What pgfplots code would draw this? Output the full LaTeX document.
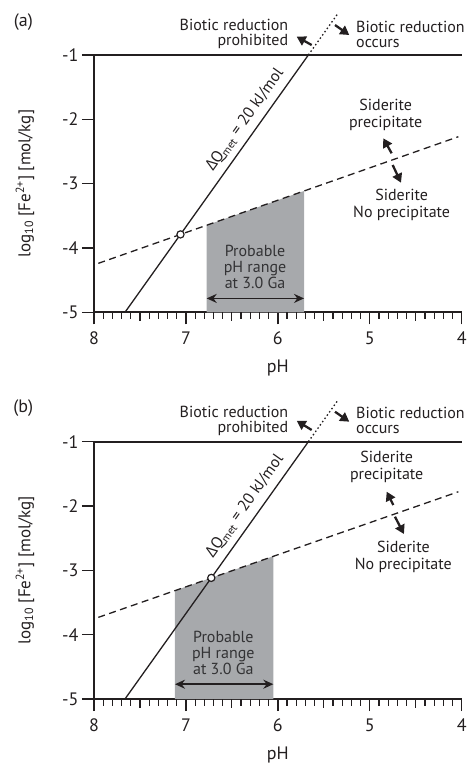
\documentclass[border=0pt]{standalone}
\usepackage{fontspec}
\setmainfont{PT Sans}
\newfontfamily\grk{Open Sans}
\usepackage{pgfplots}
\pgfplotsset{compat=1.18}
\usetikzlibrary{arrows.meta}

\definecolor{ink}{HTML}{231F20}
\definecolor{shade}{HTML}{A7A9AC}
\definecolor{note}{HTML}{333335}

\newcommand{\annfont}{\fontsize{16}{18}\selectfont}

\pgfplotsset{
  panel/.style={
    scale only axis, width=367.7pt, height=257.3pt,
    xmin=4, xmax=8, ymin=-5, ymax=-1, x dir=reverse,
    anchor=south west, clip=false,
    axis x line*=bottom, axis y line*=left,
    axis line style={line width=1.7pt, ink},
    tick align=outside,
    xtick={4,5,6,7,8}, xticklabels={4,5,6,7,8},
    ytick={-5,-4,-3,-2,-1}, yticklabels={-5,-4,-3,-2,-1},
    major tick length=12pt,
    every major tick/.append style={line width=1.4pt, ink},
    ticklabel style={font=\fontsize{18}{20}\selectfont, text=ink},
    xticklabel style={yshift=-4pt},
  },
  shadeband/.style={fill=shade, draw=none},
  solidline/.style={ink, line width=1.3pt},
  dotline/.style={ink, line width=1.3pt, dash pattern=on 1.5pt off 2.5pt},
  dashline/.style={ink, line width=1.3pt, dash pattern=on 7pt off 4.5pt},
  crossing/.style={only marks, mark=*, mark size=3.6pt,
    mark options={fill=white, draw=ink, line width=1.2pt}},
}
\tikzset{
  bigarrow/.style={ink, line width=2.3pt, -{Triangle[length=9pt,width=10pt]}},
  rangearrow/.style={ink, line width=1.6pt,
    {Stealth[length=10pt,width=9pt]}-{Stealth[length=10pt,width=9pt]}},
  subtick/.style={ink, line width=1.2pt},
}
% short ticks every 0.1 pH and slightly longer ones at the half units
\newcommand{\phsubticks}{%
  \pgfplotsinvokeforeach{4.1,4.2,4.3,4.4,4.6,4.7,4.8,4.9,
    5.1,5.2,5.3,5.4,5.6,5.7,5.8,5.9,
    6.1,6.2,6.3,6.4,6.6,6.7,6.8,6.9,
    7.1,7.2,7.3,7.4,7.6,7.7,7.8,7.9}{%
    \draw[subtick] (axis cs:##1,-5) -- ([yshift=-7pt]axis cs:##1,-5);}%
  \pgfplotsinvokeforeach{4.5,5.5,6.5,7.5}{%
    \draw[subtick] (axis cs:##1,-5) -- ([yshift=-9pt]axis cs:##1,-5);}%
}

\begin{document}
\begin{tikzpicture}

% ---------- panel (a) ----------
\begin{axis}[panel, at={(94pt,-312.3pt)}]
  \addplot[shadeband] coordinates {(6.774,-5) (6.774,-3.646) (5.715,-3.114) (5.715,-5)} -- cycle;
  \addplot[solidline] coordinates {(7.663,-5) (5.668,-1)};
  \addplot[dotline] coordinates {(5.668,-1) (5.353,-0.368)};
  \addplot[dashline] coordinates {(7.953,-4.239) (4.036,-2.270)};
  \addplot[crossing] coordinates {(7.059,-3.789)};
  \draw[ink, line width=1.7pt] (rel axis cs:0,1) -- (rel axis cs:1,1);
  \phsubticks

  \draw[rangearrow] (axis cs:6.774,-4.784) -- (axis cs:5.715,-4.784);
  \node[align=center, text=note, font=\annfont] at (axis cs:6.248,-4.29)
    {Probable\\[-2pt]pH range\\[-2pt]at 3.0 Ga};

  \node[rotate=54.5, text=ink, font=\annfont] at (axis cs:6.357,-2.01)
    {{\grk Δ}Q\textsubscript{met} = 20 kJ/mol};

  \node[anchor=east, align=right, text=ink, font=\annfont] at (axis cs:5.849,-0.677)
    {Biotic reduction\\[-3pt]prohibited};
  \node[anchor=west, align=left, text=ink, font=\annfont] at (axis cs:5.186,-0.677)
    {Biotic reduction\\[-3pt]occurs};
  \draw[bigarrow] (axis cs:5.632,-0.845) -- (axis cs:5.795,-0.715);
  \draw[bigarrow] (axis cs:5.378,-0.534) -- (axis cs:5.223,-0.689);

  \node[align=center, text=ink, font=\annfont] at (axis cs:4.827,-1.928)
    {Siderite\\[-1pt]precipitate};
  \draw[bigarrow] (axis cs:4.762,-2.528) -- (axis cs:4.853,-2.295);
  \draw[bigarrow] (axis cs:4.751,-2.710) -- (axis cs:4.660,-2.985);
  \node[align=center, text=ink, font=\annfont] at (axis cs:4.653,-3.337)
    {Siderite\\[-1pt]No precipitate};
\end{axis}

% ---------- panel (b) ----------
\begin{axis}[panel, at={(94pt,-699pt)}]
  \addplot[shadeband] coordinates {(7.119,-5) (7.119,-3.314) (6.049,-2.780) (6.049,-5)} -- cycle;
  \addplot[solidline] coordinates {(7.663,-5) (5.668,-1)};
  \addplot[dotline] coordinates {(5.668,-1) (5.353,-0.368)};
  \addplot[dashline] coordinates {(7.953,-3.731) (4.036,-1.778)};
  \addplot[crossing] coordinates {(6.724,-3.117)};
  \draw[ink, line width=1.7pt] (rel axis cs:0,1) -- (rel axis cs:1,1);
  \phsubticks

  \draw[rangearrow] (axis cs:7.119,-4.77) -- (axis cs:6.049,-4.77);
  \node[align=center, text=note, font=\annfont] at (axis cs:6.593,-4.28)
    {Probable\\[-2pt]pH range\\[-2pt]at 3.0 Ga};

  \node[rotate=54.5, text=ink, font=\annfont] at (axis cs:6.357,-2.0)
    {{\grk Δ}Q\textsubscript{met} = 20 kJ/mol};

  \node[anchor=east, align=right, text=ink, font=\annfont] at (axis cs:5.849,-0.675)
    {Biotic reduction\\[-3pt]prohibited};
  \node[anchor=west, align=left, text=ink, font=\annfont] at (axis cs:5.186,-0.675)
    {Biotic reduction\\[-3pt]occurs};
  \draw[bigarrow] (axis cs:5.632,-0.818) -- (axis cs:5.795,-0.674);
  \draw[bigarrow] (axis cs:5.378,-0.534) -- (axis cs:5.223,-0.689);

  \node[align=center, text=ink, font=\annfont] at (axis cs:4.816,-1.393)
    {Siderite\\[-1pt]precipitate};
  \draw[bigarrow] (axis cs:4.744,-1.984) -- (axis cs:4.816,-1.777);
  \draw[bigarrow] (axis cs:4.726,-2.166) -- (axis cs:4.628,-2.435);
  \node[align=center, text=ink, font=\annfont] at (axis cs:4.635,-2.792)
    {Siderite\\[-1pt]No precipitate};
\end{axis}

% ---------- shared labels ----------
\foreach \yb in {-312.3, -699} {
  \node[font=\fontsize{18}{20}\selectfont, text=ink, anchor=base] at (277.8pt,\yb pt-60pt) {pH};
  \node[font=\fontsize{17}{19}\selectfont, text=ink, rotate=90] at (25pt,\yb pt+128.6pt)
    {log\textsubscript{10} [Fe\textsuperscript{2+}] [mol/kg]};
}
\node[font=\fontsize{18}{20}\selectfont, text=ink] at (23.3pt,-21.7pt) {(a)};
\node[font=\fontsize{18}{20}\selectfont, text=ink] at (23.3pt,-408.3pt) {(b)};

\pgfresetboundingbox
\path[use as bounding box] (0,0) rectangle (466pt,-763pt);
\end{tikzpicture}
\end{document}
